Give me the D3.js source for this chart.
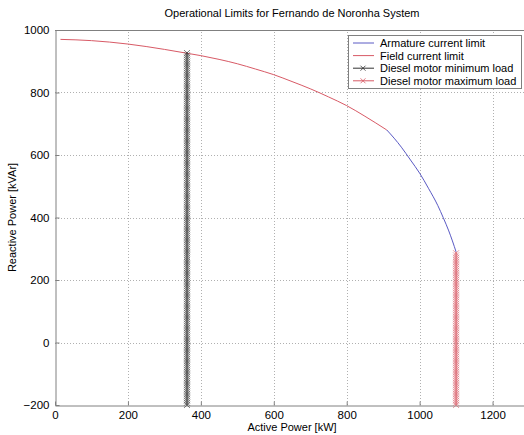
<!DOCTYPE html>
<html>
<head>
<meta charset="utf-8">
<script src="https://cdn.jsdelivr.net/npm/d3@7"></script>
<style>
  body { margin: 0; background: #fff; }
  svg { font-family: "Liberation Sans", Arial, sans-serif; }
</style>
</head>
<body>
<div id="chart"></div>
<script>
// Field current limit (red)
const fieldP = [15, 100, 200, 300, 365, 400, 450, 500, 550, 600, 650, 700, 750, 800, 850, 910]
const fieldQ = [970, 966, 955, 938, 925, 918, 906, 892, 875, 857, 835, 812, 786, 758, 724, 680]

// Armature current limit (blue)
const armP = [910, 930, 950, 975, 1000, 1025, 1050, 1065, 1080, 1090, 1100]
const armQ = [680, 654, 625, 584, 542, 492, 438, 399, 357, 325, 290]

// Diesel motor limits (vertical lines)
const minLoadP = [362, 362]
const minLoadQ = [-200, 930]
const maxLoadP = [1100, 1100]
const maxLoadQ = [-200, 290]

const xTicks = [0, 200, 400, 600, 800, 1000, 1200]
const yTicks = [-200, 0, 200, 400, 600, 800, 1000]

const legendLabels = ["Armature current limit", "Field current limit",
  "Diesel motor minimum load", "Diesel motor maximum load"]

const BLUE = "#5a5ac4"
const RED = "#d85a66"

const W = 524, H = 435
const MARGIN = { LEFT: 55, TOP: 30, RIGHT: -5, BOTTOM: 30 }

const svg = d3.select("#chart").append("svg")
  .attr("width", W)
  .attr("height", H)

const x = d3.scaleLinear().domain([0, 1300]).range([MARGIN.LEFT, W - MARGIN.RIGHT])
const y = d3.scaleLinear().domain([-200, 1000]).range([H - MARGIN.BOTTOM, MARGIN.TOP])

// grid
const grid = svg.append("g")
  .attr("stroke", "#b0b0b0")
  .attr("stroke-dasharray", "1,2")
  .attr("stroke-width", 1)
grid.selectAll(".gx").data(xTicks.slice(1)).enter().append("line")
  .attr("x1", d => Math.round(x(d)) + 0.5).attr("x2", d => Math.round(x(d)) + 0.5)
  .attr("y1", y(-200)).attr("y2", y(1000))
grid.selectAll(".gy").data(yTicks.slice(1, -1)).enter().append("line")
  .attr("y1", d => Math.round(y(d)) + 0.5).attr("y2", d => Math.round(y(d)) + 0.5)
  .attr("x1", x(0)).attr("x2", x(1300))

// axes (ticks inside, like matlab)
const fmt = d3.format("d")
const xAxis = d3.axisBottom(x).tickValues(xTicks).tickFormat(fmt).tickSizeInner(-4).tickSizeOuter(0).tickPadding(5)
const yAxis = d3.axisLeft(y).tickValues(yTicks).tickFormat(fmt).tickSizeInner(-4).tickSizeOuter(0).tickPadding(6)

const gx = svg.append("g")
  .attr("transform", `translate(0,${Math.round(y(-200)) + 0.5})`)
  .call(xAxis)
const gy = svg.append("g")
  .attr("transform", `translate(${Math.round(x(0)) + 0.5},0)`)
  .call(yAxis)
;[gx, gy].forEach(g => {
  g.selectAll("path, line").attr("stroke", "#808080")
  g.selectAll("text").attr("font-size", "11.5px").attr("fill", "#000")
    .attr("font-family", "Liberation Sans, Arial, sans-serif")
})

// top border
svg.append("line")
  .attr("x1", x(0)).attr("x2", x(1300))
  .attr("y1", Math.round(y(1000)) + 0.5).attr("y2", Math.round(y(1000)) + 0.5)
  .attr("stroke", "#808080")

const line = d3.line().x(d => x(d[0])).y(d => y(d[1])).curve(d3.curveMonotoneX)

svg.append("path")
  .datum(fieldP.map((p, i) => [p, fieldQ[i]]))
  .attr("d", line).attr("fill", "none").attr("stroke", RED).attr("stroke-width", 1)

svg.append("path")
  .datum(armP.map((p, i) => [p, armQ[i]]))
  .attr("d", line).attr("fill", "none").attr("stroke", BLUE).attr("stroke-width", 1)

// vertical load lines with dense x markers
const vline = d3.line().x(d => x(d[0])).y(d => y(d[1]))
function loadLine(ps, qs, color) {
  const pts = ps.map((p, i) => [p, qs[i]])
  svg.append("path").datum(pts).attr("d", vline)
    .attr("fill", "none").attr("stroke", color).attr("stroke-width", 1)
  const px = x(ps[0])
  const top = y(qs[1]), bottom = y(qs[0])
  const marks = d3.range(bottom, top - 0.1, -2.2)
  svg.append("path")
    .attr("d", marks.map(m => `M${px - 3},${m - 3}L${px + 3},${m + 3}M${px - 3},${m + 3}L${px + 3},${m - 3}`).join(""))
    .attr("stroke", color).attr("stroke-width", 0.6).attr("fill", "none")
}
loadLine(minLoadP, minLoadQ, "#333")
loadLine(maxLoadP, maxLoadQ, RED)

// titles
svg.append("text")
  .attr("x", 292).attr("y", 17)
  .attr("text-anchor", "middle").attr("font-size", "11px")
  .text("Operational Limits for Fernando de Noronha System")
svg.append("text")
  .attr("x", 292).attr("y", 431)
  .attr("text-anchor", "middle").attr("font-size", "11px")
  .text("Active Power [kW]")
svg.append("text")
  .attr("transform", `translate(16,${y(400)}) rotate(-90)`)
  .attr("text-anchor", "middle").attr("font-size", "11px")
  .text("Reactive Power [kVAr]")

// legend
const lg = svg.append("g")
lg.append("rect")
  .attr("x", 348.5).attr("y", 35.5).attr("width", 173).attr("height", 53)
  .attr("fill", "#fff").attr("stroke", "#808080")
const legendColors = [BLUE, RED, "#333", RED]
legendLabels.forEach((lab, i) => {
  const ly = 43 + i * 12.6
  lg.append("line").attr("x1", 353).attr("x2", 374).attr("y1", ly).attr("y2", ly)
    .attr("stroke", legendColors[i])
  if (i >= 2) {
    lg.append("path")
      .attr("d", `M360.5,${ly - 2.5}L365.5,${ly + 2.5}M360.5,${ly + 2.5}L365.5,${ly - 2.5}`)
      .attr("stroke", legendColors[i]).attr("stroke-width", 0.8)
  }
  lg.append("text").attr("x", 380).attr("y", ly + 4)
    .attr("font-size", "11px").text(lab)
})
</script>
</body>
</html>
